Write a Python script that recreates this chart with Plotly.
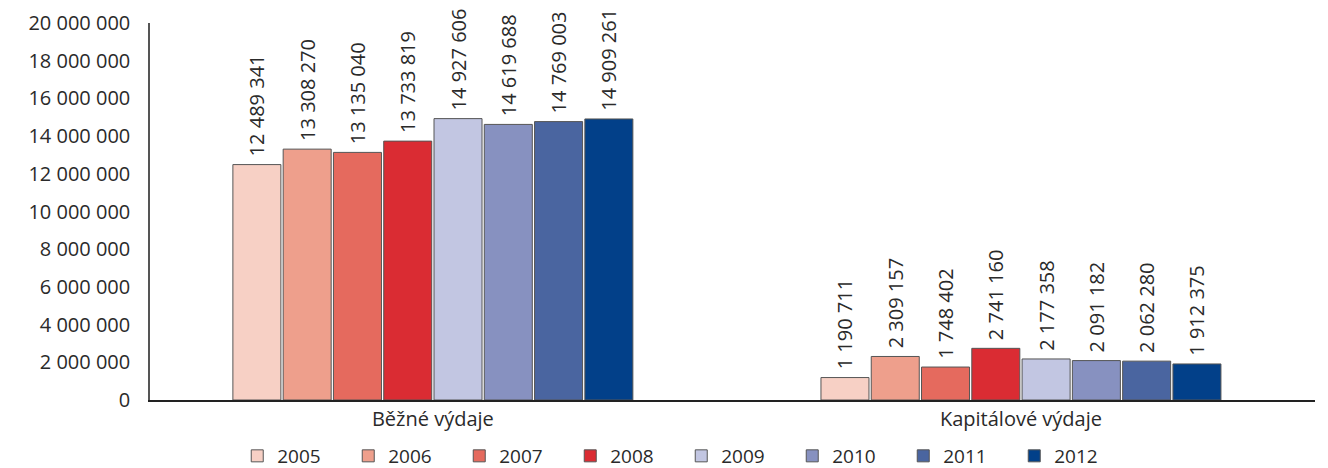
import plotly.graph_objects as go

categories = ["Běžné výdaje", "Kapitálové výdaje"]
years = ["2005", "2006", "2007", "2008", "2009", "2010", "2011", "2012"]
bezne = [12489341, 13308270, 13135040, 13733819, 14927606, 14619688, 14769003, 14909261]
kapitalove = [1190711, 2309157, 1748402, 2741160, 2177358, 2091182, 2062280, 1912375]
colors = ["#F7D0C5", "#EE9F8C", "#E56A5E", "#DA2C33", "#C2C6E2", "#8791C0", "#4A65A0", "#024089"]

fig = go.Figure()
for i, y in enumerate(years):
    fig.add_trace(go.Bar(
        name=y, x=categories, y=[bezne[i], kapitalove[i]],
        marker=dict(color=colors[i], line=dict(color="#555555", width=1)),
        texttemplate="\u00a0%{y:,d}", textposition="outside", textangle=-90,
        constraintext="none",
        textfont=dict(size=20, color="#2a2a2a"), cliponaxis=False,
    ))

# page body has an 8px default margin, so the figure is 8px smaller than the window
fig.update_layout(
    width=1320, height=460, barmode="group", bargap=0.316, bargroupgap=0.045,
    separators=", ",
    plot_bgcolor="white", paper_bgcolor="white",
    font=dict(family="Open Sans, sans-serif", size=19, color="#2a2a2a"),
    margin=dict(l=142, r=13, t=15, b=68, autoexpand=False),
    uniformtext=dict(minsize=20, mode="show"),
    legend=dict(orientation="h", x=0.456, xanchor="center", y=-0.1485, yanchor="middle",
                font=dict(size=19), traceorder="normal",
                entrywidth=66, entrywidthmode="pixels"),
    showlegend=True,
)
fig.update_yaxes(range=[0, 20000000], dtick=2000000, tickformat=",d",
                 showgrid=False, showline=True, linecolor="#555555", linewidth=1.5,
                 ticks="", zeroline=False, tickfont=dict(size=20),
                 ticklabelstandoff=14, automargin=False)
fig.update_xaxes(showline=True, linecolor="#222222", linewidth=1.5, ticks="",
                 range=[-0.481, 1.5], tickfont=dict(size=20), automargin=False)
fig.write_html("out.html")
